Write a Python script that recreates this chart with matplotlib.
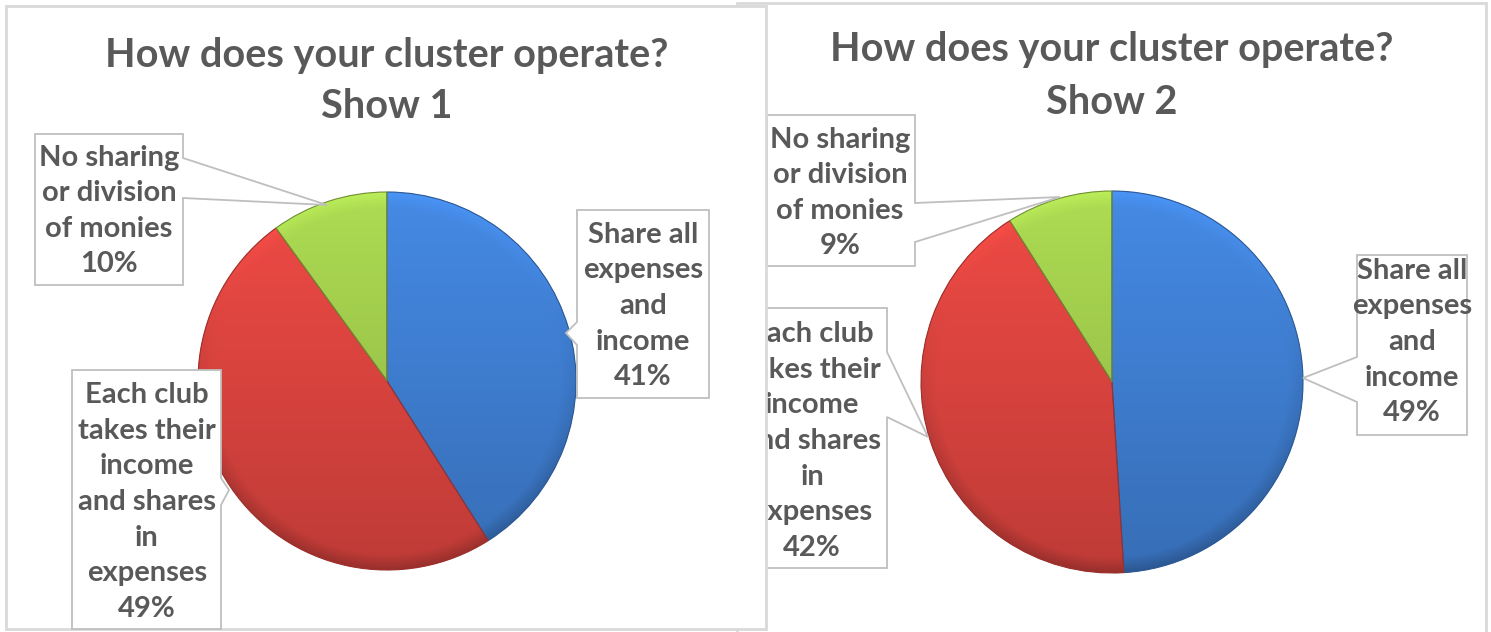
import numpy as np
import matplotlib.pyplot as plt
from matplotlib.patches import Rectangle, Polygon, PathPatch

plt.rcParams['font.family'] = ['Lato', 'DejaVu Sans']

# Datos
etiquetas = ["Share all\nexpenses\nand\nincome",
             "Each club\ntakes their\nincome\nand shares\nin\nexpenses",
             "No sharing\nor division\nof monies"]
show1 = [41, 49, 10]
show2 = [49, 42, 9]
titulos = ["How does your cluster operate?\nShow 1",
           "How does your cluster operate?\nShow 2"]
colores = [(0.25, 0.50, 0.83), (0.87, 0.27, 0.25), (0.63, 0.80, 0.30)]

W, H = 1491, 632
GRIS = '#595959'
BORDE = '#BFBFBF'


def Y(y):
    return H - y


fig = plt.figure(figsize=(W / 100, H / 100), dpi=100)
ax = fig.add_axes([0, 0, 1, 1])


def sombra(color, n=200):
    u, v = np.meshgrid(np.linspace(-1, 1, n), np.linspace(-1, 1, n))
    rr = np.sqrt(u ** 2 + v ** 2)
    f = 0.86 + 0.22 * (v + 1) / 2
    borde = np.clip((rr - 0.92) / 0.08, 0, 1)
    f = f * (1 + borde * (0.14 * v - 0.06))
    img = np.clip(np.array(color)[None, None, :] * f[:, :, None], 0, 1)
    return img


def dibujar_pie(valores, centro, r, z):
    cx, cy = centro[0], Y(centro[1])
    wedges, _ = ax.pie(valores, colors=colores, startangle=90, counterclock=False,
                       center=(cx, cy), radius=r, frame=True,
                       wedgeprops=dict(edgecolor='none', linewidth=0))
    for w, c in zip(wedges, colores):
        w.set_zorder(z)
        im = ax.imshow(sombra(c), extent=(cx - r, cx + r, cy - r, cy + r),
                       origin='lower', zorder=z + 0.5, interpolation='bilinear')
        im.set_clip_path(w)
        ax.add_patch(PathPatch(w.get_path(), fill=False,
                               edgecolor=tuple(np.array(c) * 0.7), lw=0.8,
                               zorder=z + 0.6))


def callout(puntos, texto, centro, z):
    pts = [(x, Y(y)) for x, y in puntos]
    ax.add_patch(Polygon(pts, closed=True, facecolor='white', edgecolor=BORDE,
                         lw=1.3, zorder=z))
    ax.text(centro[0], Y(centro[1]), texto, ha='center', va='center', fontsize=21,
            fontweight='bold', color=GRIS, linespacing=1.46, zorder=z + 0.5)


def titulo(texto, x, y, z):
    ax.text(x, Y(y), texto, ha='center', va='center', fontsize=28.5,
            fontweight='bold', color=GRIS, linespacing=1.5, zorder=z)


# ---- Show 2 (detras) ----
ax.add_patch(Rectangle((737, Y(640)), 1486 - 737, 640 - 3, facecolor='white',
                       edgecolor='#D9D9D9', lw=2, zorder=1))
titulo(titulos[1], 1112, 76, 5)
dibujar_pie(show2, (1112, 382), 191, 2)
textos2 = [etiquetas[i] + "\n%d%%" % show2[i] for i in range(3)]
callout([(1357, 255), (1467, 255), (1467, 435), (1357, 435), (1357, 402),
         (1303, 378), (1357, 357)], textos2[0], (1412, 342), 4)
callout([(740, 308), (887, 308), (887, 352), (928, 437), (887, 417),
         (887, 568), (740, 568)], textos2[1], (812, 441), 4)
callout([(767, 115), (915, 115), (915, 203), (1060, 197), (915, 242),
         (915, 266), (767, 266)], textos2[2], (840, 193), 4)

# ---- Show 1 (delante) ----
ax.add_patch(Rectangle((6, Y(629)), 766 - 6, 629 - 6, facecolor='white',
                       edgecolor='#D9D9D9', lw=2, zorder=10))
titulo(titulos[0], 387, 81, 15)
dibujar_pie(show1, (387, 381), 189, 11)
textos1 = [etiquetas[i] + "\n%d%%" % show1[i] for i in range(3)]
callout([(577, 210), (709, 210), (709, 398), (577, 398), (577, 345),
         (566, 333), (577, 322)], textos1[0], (643, 306), 13)
callout([(72, 370), (221, 370), (221, 478), (229, 490), (221, 505),
         (221, 629), (72, 629)], textos1[1], (147, 502), 13)
callout([(35, 134), (183, 134), (183, 158), (327, 205), (183, 198),
         (183, 285), (35, 285)], textos1[2], (109, 211), 13)

ax.set_xlim(0, W)
ax.set_ylim(0, H)
ax.set_axis_off()

plt.savefig("out.png", dpi=100, facecolor='white')
